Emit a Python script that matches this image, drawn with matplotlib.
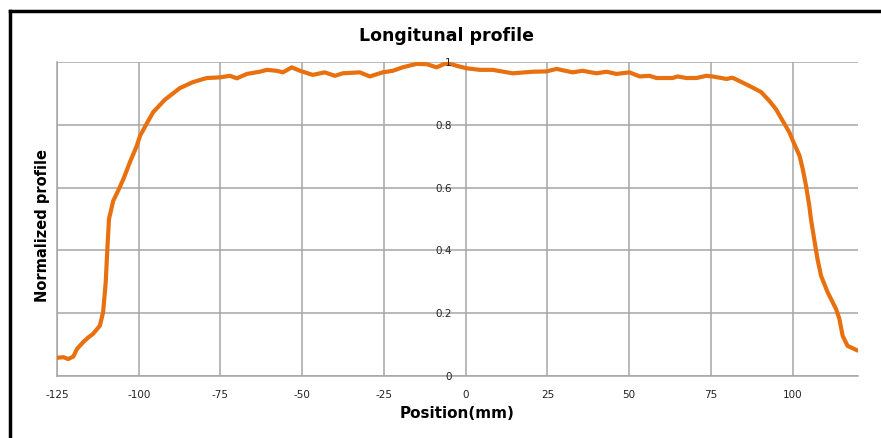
import matplotlib.pyplot as plt
from matplotlib.lines import Line2D
import numpy as np

# profile
position = [-125.0, -123.0, -121.6, -120.0, -118.9, -117.0, -115.4, -114.0, -111.9, -110.9,
            -110.1, -109.6, -109.1, -107.8, -106.3, -104.7, -102.7, -100.6, -99.6, -97.6,
            -95.6, -92.0, -87.4, -83.4, -79.2, -75.2, -72.1, -70.0, -66.9, -63.0,
            -60.8, -57.8, -55.9, -53.2, -50.7, -46.8, -43.1, -40.0, -37.6, -32.4,
            -29.3, -25.4, -22.3, -19.3, -15.0, -11.9, -8.9, -5.8, -2.8, 0.3,
            4.3, 8.2, 14.4, 20.5, 24.7, 27.8, 32.7, 35.7, 40.0, 43.1,
            46.1, 50.1, 53.2, 56.2, 58.4, 63.3, 64.8, 67.5, 70.6, 73.6,
            75.5, 79.8, 81.6, 84.6, 87.7, 90.4, 92.9, 94.9, 97.0, 99.0,
            100.5, 102.1, 103.1, 104.1, 105.1, 105.6, 106.6, 107.6, 108.7, 110.7,
            113.3, 114.3, 115.3, 116.8, 119.9]
profile = [0.058, 0.060, 0.054, 0.062, 0.086, 0.108, 0.123, 0.134, 0.160, 0.203,
           0.298, 0.404, 0.500, 0.558, 0.590, 0.627, 0.681, 0.733, 0.765, 0.803,
           0.840, 0.880, 0.917, 0.936, 0.949, 0.951, 0.956, 0.948, 0.962, 0.969,
           0.975, 0.972, 0.967, 0.983, 0.972, 0.959, 0.967, 0.956, 0.964, 0.967,
           0.954, 0.967, 0.972, 0.983, 0.994, 0.993, 0.983, 0.997, 0.988, 0.980,
           0.975, 0.975, 0.964, 0.969, 0.970, 0.978, 0.967, 0.972, 0.964, 0.969,
           0.962, 0.967, 0.954, 0.956, 0.949, 0.949, 0.954, 0.949, 0.949, 0.956,
           0.954, 0.946, 0.950, 0.935, 0.919, 0.904, 0.876, 0.850, 0.812, 0.776,
           0.739, 0.702, 0.659, 0.606, 0.542, 0.500, 0.436, 0.373, 0.319, 0.267,
           0.213, 0.182, 0.128, 0.096, 0.081]

xticks = [-125, -100, -75, -50, -25, 0, 25, 50, 75, 100]
yticks = [0, 0.2, 0.4, 0.6, 0.8, 1]
ylabels = ["0", "0.2", "0.4", "0.6", "0.8", "1"]

plt.rcParams['font.family'] = ['DejaVu Sans']
fig = plt.figure(figsize=(8.81, 4.39), dpi=100)
ax = fig.add_axes([0.0647, 0.1412, 0.9092, 0.7153])

grid_c = "#a6a6a6"
ax.plot(position, profile, color="#e8700f", lw=3, solid_capstyle="round", zorder=3)
ax.set_xlim(-125, 120)
ax.set_ylim(0, 1)
ax.set_xticks(xticks)
ax.set_xticklabels([str(t) for t in xticks])
ax.set_yticks(yticks)
ax.set_yticklabels([])
ax.grid(True, color=grid_c, lw=1.1)
ax.tick_params(axis="x", length=0, pad=9, labelsize=7.5, colors="#222222")
ax.tick_params(axis="y", length=0)
for s in ["top", "right"]:
    ax.spines[s].set_visible(False)
for s in ["left", "bottom"]:
    ax.spines[s].set_color(grid_c)
    ax.spines[s].set_linewidth(1.1)

# y tick labels sit along the x=0 axis
for v, lab in zip(yticks, ylabels):
    ax.annotate(lab, xy=(0, v), xytext=(-10, 0), textcoords="offset points",
                ha="right", va="center", fontsize=7.5, color="#222222")

fig.text(0.507, 0.918, "Longitunal profile", ha="center", va="center",
         fontsize=12.5, fontweight="bold")
fig.text(0.519, 0.059, "Position(mm)", ha="center", va="center",
         fontsize=11, fontweight="bold")
fig.text(0.048, 0.487, "Normalized profile", ha="center", va="center",
         rotation=90, fontsize=10.5, fontweight="bold")

# chart frame (only left and top edges visible)
fig.add_artist(Line2D([0.0114, 0.0114], [0, 0.973], color="black", lw=2.5))
fig.add_artist(Line2D([0.0114, 1.0], [0.973, 0.973], color="black", lw=2.5))

fig.savefig("out.png", dpi=100)
